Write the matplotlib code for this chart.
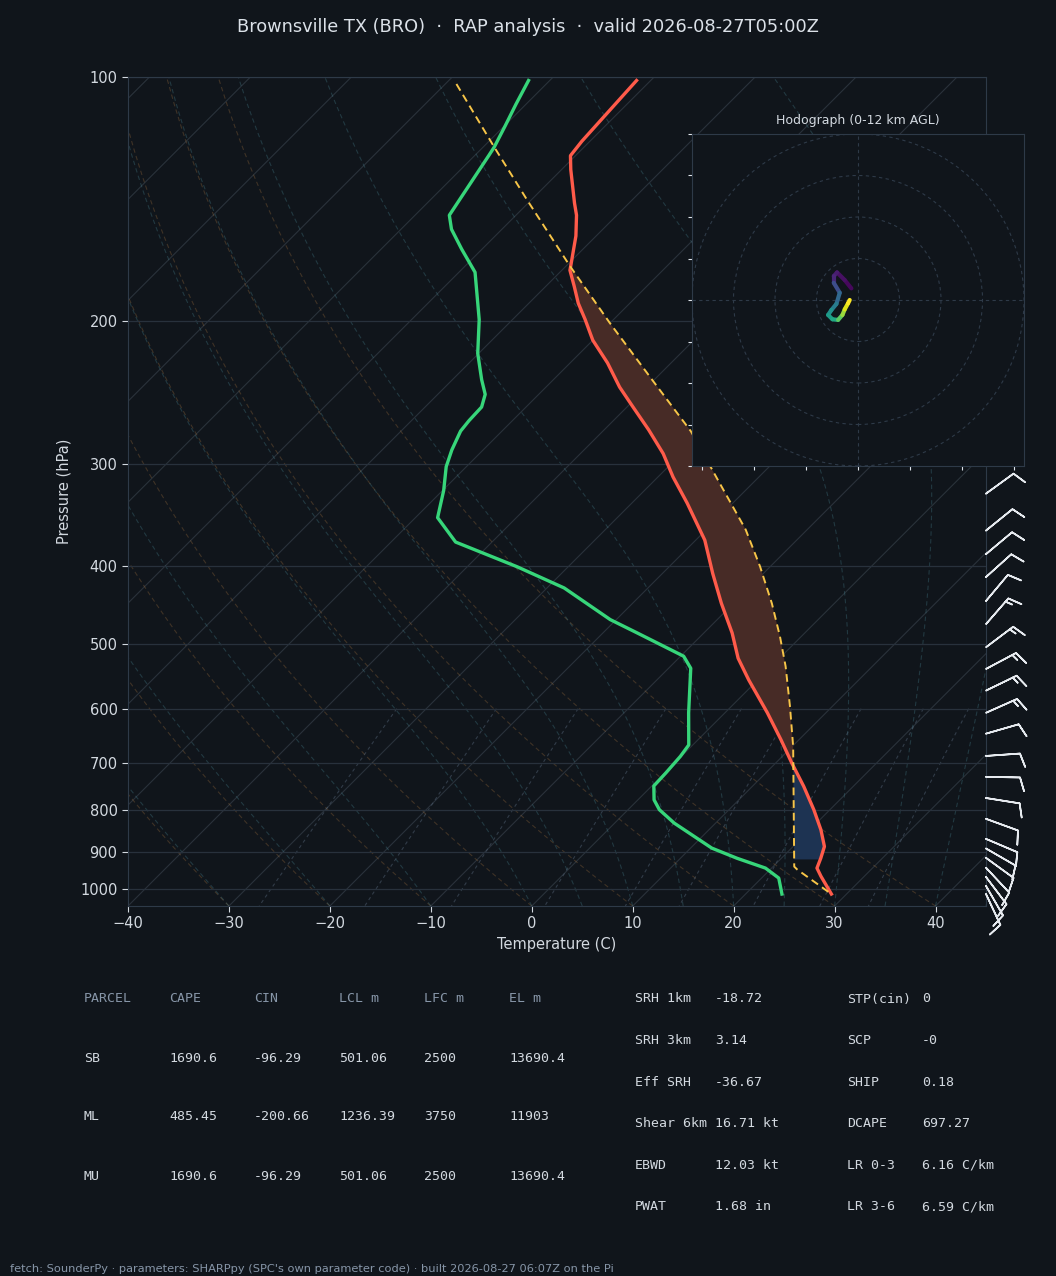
import numpy as np
import matplotlib
matplotlib.use("Agg")
import matplotlib.pyplot as plt
from matplotlib import transforms
from matplotlib.collections import LineCollection
from matplotlib.patches import Circle
from matplotlib.ticker import NullLocator

# --- sounding (hPa, degC) ---
pres_temp = [101, 120, 125, 130, 143, 148, 157, 170, 173, 181, 190, 199, 211, 225,
             241, 255, 272, 291, 311, 335, 372, 409, 445, 484, 520, 553, 607, 655,
             700, 748, 799, 846, 887, 917, 943, 965, 1015]
temp = [-71.4, -70.8, -70.5, -69.1, -65.4, -64.0, -62.0, -59.7, -59.2, -57.2, -55.1,
        -52.8, -50.0, -46.3, -42.7, -39.4, -35.6, -31.8, -28.5, -24.5, -19.1, -15.0,
        -11.2, -7.2, -4.1, -0.9, 4.2, 8.2, 11.6, 15.1, 18.4, 21.1, 23.1, 23.9, 24.5,
        25.7, 28.5]

pres_dewp = [101, 108, 115, 122, 125, 148, 154, 163, 174, 199, 219, 236, 246, 255,
             265, 273, 288, 302, 323, 349, 374, 401, 426, 466, 484, 517, 535, 607,
             665, 687, 720, 747, 777, 799, 830, 891, 917, 943, 970, 1015]
dewp = [-82.1, -81.0, -79.9, -78.9, -78.6, -76.6, -75.0, -72.0, -68.4, -63.3, -60.1,
        -57.1, -55.3, -54.4, -54.3, -54.1, -53.1, -52.0, -49.9, -47.8, -43.6, -35.1,
        -28.3, -20.6, -16.6, -9.7, -7.8, -3.6, -0.4, -0.1, 0.1, 0.2, 1.6, 3.1, 5.9,
        12.1, 15.6, 19.4, 21.7, 23.6]

pres_parcel = [102, 122, 142, 171, 201, 238, 273, 314, 361, 401, 445, 489, 532, 596,
               668, 707, 939, 947, 1015]
parcel = [-88.9, -78.9, -70.3, -59.6, -50.0, -39.7, -31.3, -23.7, -16.1, -11.0, -6.2,
          -2.1, 1.4, 5.8, 10.1, 12.1, 22.1, 22.7, 28.5]

# wind barbs (direction wind is from, deg; speed kt)
barb_pres = [326, 362, 387, 413, 442, 472, 504, 536, 570, 607, 644, 686, 728, 773,
             820, 868, 892, 916, 942, 967, 992, 1015]
barb_dir = [54, 51, 50, 48, 40, 41, 53, 62, 64, 66, 74, 86, 91, 99, 110, 113, 120,
            126, 137, 143, 150, 155]
barb_spd = [10, 10, 10, 10, 10, 15, 15, 15, 15, 15, 10, 10, 10, 10, 10, 10, 10, 10,
            10, 10, 10, 10]

# hodograph (kt) with height AGL (km) for colouring
hodo_u = [-3.2, -6.4, -10.1, -11.7, -11.7, -8.8, -10.4, -12.8, -14.4, -12.3, -9.6,
          -7.5, -6.4, -4.8, -4.0]
hodo_v = [5.6, 9.6, 13.3, 11.5, 8.3, 3.5, -1.9, -4.8, -7.2, -9.3, -9.6, -7.2, -4.5,
          -1.6, 0.0]
hodo_z = [0, 0.25, 0.5, 0.9, 1.3, 2.8, 4.0, 5.0, 6.0, 6.6, 7.2, 9.0, 10.2, 11.4, 12.0]

# parameter tables
tbl_head = ["PARCEL", "CAPE", "CIN", "LCL m", "LFC m", "EL m"]
tbl_parcels = ["SB", "ML", "MU"]
tbl_cape = ["1690.6", "485.45", "1690.6"]
tbl_cin = ["-96.29", "-200.66", "-96.29"]
tbl_lcl = ["501.06", "1236.39", "501.06"]
tbl_lfc = ["2500", "3750", "2500"]
tbl_el = ["13690.4", "11903", "13690.4"]

kin_names = ["SRH 1km", "SRH 3km", "Eff SRH", "Shear 6km", "EBWD", "PWAT"]
kin_vals = ["-18.72", "3.14", "-36.67", "16.71 kt", "12.03 kt", "1.68 in"]
cmp_names = ["STP(cin)", "SCP", "SHIP", "DCAPE", "LR 0-3", "LR 3-6"]
cmp_vals = ["0", "-0", "0.18", "697.27", "6.16 C/km", "6.59 C/km"]

title = "Brownsville TX (BRO)  \u00b7  RAP analysis  \u00b7  valid 2026-08-27T05:00Z"
footer = ("fetch: SounderPy \u00b7 parameters: SHARPpy (SPC's own parameter code) "
          "\u00b7 built 2026-08-27 06:07Z on the Pi")

BG = "#10151b"
EDGE = "#2e3a48"
TXT = "#d3d9e0"
DIM = "#8796a8"

W, H = 1056, 1276


def fx(px):
    return px / W


def fy(py):
    return 1 - py / H


def moist_lapse(t0c, pres):
    # simple integration of the saturated adiabat from pres[0]
    rd, cp, lv, eps = 287.04, 1005.7, 2.501e6, 0.622
    out = np.empty((len(t0c), len(pres)))
    t = np.asarray(t0c, float) + 273.15
    out[:, 0] = t
    for i in range(1, len(pres)):
        p0, p1 = pres[i - 1], pres[i]
        n = 10
        dp = (p1 - p0) / n
        p = p0
        for _ in range(n):
            tc = t - 273.15
            es = 6.112 * np.exp(17.67 * tc / (tc + 243.5))
            rs = eps * es / (p - es)
            dtdp = (rd * t + lv * rs) / (cp + lv * lv * rs * eps / (rd * t * t)) / p
            t = t + dtdp * dp
            p = p + dp
        out[:, i] = t
    return out - 273.15


fig = plt.figure(figsize=(W / 100, H / 100), dpi=100, facecolor=BG)
ax = fig.add_axes([fx(128), fy(906), fx(858), 829 / H], facecolor=BG)
ax.set_yscale("log")
ax.set_xlim(-40, 45)
ax.set_ylim(1050, 100)

# skew of 45 degrees on screen, done in axes space
shear = np.arctan(829 / 858)
skew = ax.transScale + ax.transLimits + transforms.Affine2D().skew(shear, 0) + ax.transAxes

# background: isotherms, dry/moist adiabats, mixing ratio lines
pgrid = np.linspace(1050, 100, 120)
for t0 in range(-130, 50, 10):
    ax.plot([t0, t0], [1050, 100], color="#2a323b", lw=0.8, transform=skew, zorder=1)

for t0 in np.arange(-40, 46, 10):
    td = (t0 + 273.15) * (pgrid / 1050) ** 0.2857 - 273.15
    ax.plot(td, pgrid, color="#c98a48", alpha=0.25, lw=0.8, ls=(0, (4, 3)),
            transform=skew, zorder=1)

t0_moist = np.concatenate((np.arange(-40, 0, 10), np.arange(0, 46, 5)))
moist = moist_lapse(t0_moist, pgrid)
for row in moist:
    ax.plot(row, pgrid, color="#4b8b9a", alpha=0.3, lw=0.8, ls=(0, (4, 3)),
            transform=skew, zorder=1)

pmix = np.linspace(600, 1050, 50)
for w in [0.0004, 0.001, 0.002, 0.004, 0.007, 0.01, 0.016, 0.024, 0.032]:
    e = pmix * w / (0.622 + w)
    lg = np.log(e / 6.112)
    tdw = 243.5 * lg / (17.67 - lg)
    ax.plot(tdw, pmix, color="#5a6b80", alpha=0.45, lw=0.8, ls=(0, (3, 3)),
            transform=skew, zorder=1)

# CAPE / CIN shading between the environment and the parcel
pfill = np.geomspace(1015, 101, 800)
t_i = np.interp(np.log(pfill), np.log(pres_temp), temp)
par_i = np.interp(np.log(pfill), np.log(pres_parcel), parcel)


def shade(mask, color):
    idx = np.flatnonzero(mask)
    if idx.size < 2:
        return
    for run in np.split(idx, np.flatnonzero(np.diff(idx) > 1) + 1):
        if run.size < 2:
            continue
        xs = np.concatenate([t_i[run], par_i[run][::-1]])
        ys = np.concatenate([pfill[run], pfill[run][::-1]])
        ax.fill(xs, ys, color=color, lw=0, transform=skew, zorder=2)


shade((par_i >= t_i) & (pfill < 720), "#472b26")
shade((t_i >= par_i) & (pfill >= 690) & (pfill <= 921), "#1d3352")

# profiles
ax.plot(temp, pres_temp, color="#ff5b4a", lw=2.4, transform=skew, zorder=4)
ax.plot(dewp, pres_dewp, color="#37d67a", lw=2.4, transform=skew, zorder=4)
ax.plot(parcel, pres_parcel, color="#f7c548", lw=1.4, ls=(0, (4, 2.5)),
        transform=skew, zorder=4)

# axes cosmetics
ax.set_yticks([100, 200, 300, 400, 500, 600, 700, 800, 900, 1000],
              labels=["100", "200", "300", "400", "500", "600", "700", "800", "900", "1000"])
ax.yaxis.set_minor_locator(NullLocator())
ax.set_xticks(np.arange(-40, 41, 10))
ax.yaxis.grid(True, color="#28313c", lw=0.9)
ax.tick_params(colors=TXT, labelsize=10.5, length=4)
for s in ax.spines.values():
    s.set_color(EDGE)
ax.set_xlabel("Temperature (C)", color=TXT, fontsize=10.5, labelpad=4)
ax.set_ylabel("Pressure (hPa)", color=TXT, fontsize=10.5, labelpad=6)

# wind barbs along the right edge
wd = np.radians(barb_dir)
bu = -np.array(barb_spd) * np.sin(wd)
bv = -np.array(barb_spd) * np.cos(wd)
btrans = transforms.blended_transform_factory(ax.transAxes, ax.transData)
ax.barbs(np.ones(len(barb_pres)), barb_pres, bu, bv, transform=btrans, clip_on=False,
         length=7, color="#e6eaef", linewidth=1.2, zorder=5)

# hodograph inset
hax = fig.add_axes([fx(692), fy(466), fx(332), 332 / H], facecolor=BG)
hax.set_xlim(-80, 80)
hax.set_ylim(-80, 80)
for r in (20, 40, 60, 80):
    hax.add_patch(Circle((0, 0), r, fill=False, ec=EDGE, lw=0.8, ls=(0, (3, 3))))
hax.axhline(0, color=EDGE, lw=0.8, ls=(0, (3, 3)))
hax.axvline(0, color=EDGE, lw=0.8, ls=(0, (3, 3)))
pts = np.column_stack([hodo_u, hodo_v])
segs = np.stack([pts[:-1], pts[1:]], axis=1)
lc = LineCollection(segs, cmap="viridis", linewidths=3, capstyle="round")
lc.set_array(np.array(hodo_z[1:]))
lc.set_clim(0, 12)
hax.add_collection(lc)
hax.set_xticks(np.arange(-75, 76, 25))
hax.set_yticks(np.arange(-80, 81, 20))
hax.tick_params(labelbottom=False, labelleft=False, colors="#dfe5ec", length=3)
for s in hax.spines.values():
    s.set_color(EDGE)
hax.set_title("Hodograph (0-12 km AGL)", color=TXT, fontsize=9, pad=7)

# title and footer
fig.text(0.5, fy(27), title, ha="center", va="center", fontsize=12.8, color="#dbe1e8")
fig.text(fx(10), fy(1269), footer, ha="left", va="center", fontsize=8.2, color=DIM)

# parcel table
mono = "DejaVu Sans Mono"
cols_x = [84, 169, 254, 339, 424, 509]
for x, h in zip(cols_x, tbl_head):
    fig.text(fx(x), fy(999), h, family=mono, fontsize=9.5, color=DIM, va="center")
rows = zip(tbl_parcels, tbl_cape, tbl_cin, tbl_lcl, tbl_lfc, tbl_el)
for i, row in enumerate(rows):
    for x, val in zip(cols_x, row):
        fig.text(fx(x), fy(1058 + 59 * i), val, family=mono, fontsize=9.5,
                 color=TXT, va="center")

# kinematic / composite table
for i in range(len(kin_names)):
    y = fy(999 + 41.6 * i)
    fig.text(fx(635), y, kin_names[i], family=mono, fontsize=9.5, color=TXT, va="center")
    fig.text(fx(715), y, kin_vals[i], family=mono, fontsize=9.5, color=TXT, va="center")
    fig.text(fx(847), y, cmp_names[i], family=mono, fontsize=9.5, color=TXT, va="center")
    fig.text(fx(922), y, cmp_vals[i], family=mono, fontsize=9.5, color=TXT, va="center")

fig.savefig("out.png", dpi=100, facecolor=BG)
